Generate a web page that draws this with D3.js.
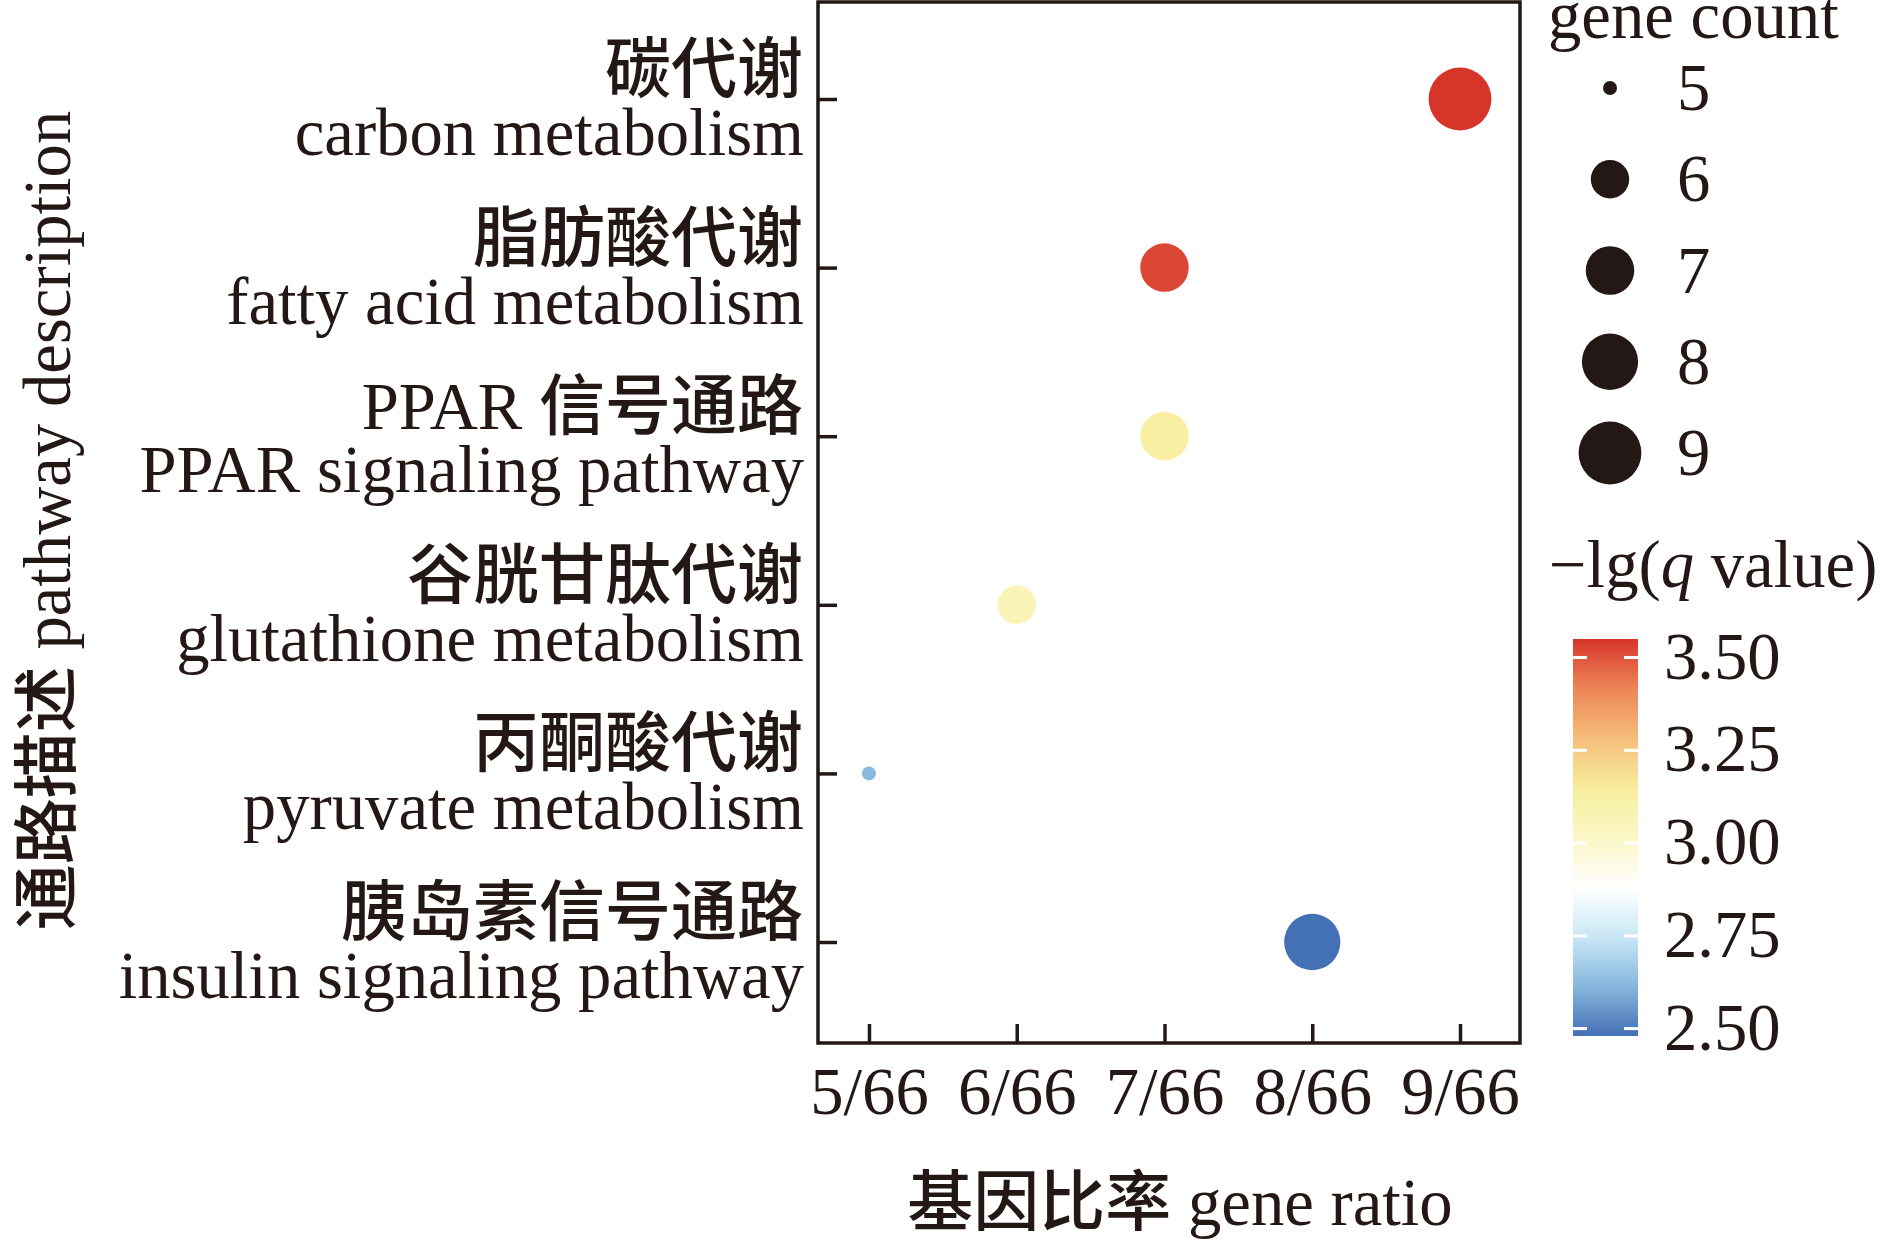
<!DOCTYPE html>
<html>
<head>
<meta charset="utf-8">
<script src="https://cdn.jsdelivr.net/npm/d3@7/dist/d3.min.js"></script>
<style>
  html, body { margin: 0; padding: 0; background: #ffffff; }
  svg { display: block; }
</style>
</head>
<body>
<svg id="chart" width="1890" height="1241"></svg>
<script>
// ---------------- data ----------------
const pathwaysZh = ["碳代谢", "脂肪酸代谢", "PPAR 信号通路", "谷胱甘肽代谢", "丙酮酸代谢", "胰岛素信号通路"];
const pathwaysEn = ["carbon metabolism", "fatty acid metabolism", "PPAR signaling pathway", "glutathione metabolism", "pyruvate metabolism", "insulin signaling pathway"];
const ratioNumerator = [9, 7, 7, 6, 5, 8];
const ratioDenominator = 66;
const geneCount = [9, 7, 7, 6, 5, 8];
const negLgQ = [3.55, 3.52, 3.13, 3.07, 2.62, 2.48];
const xTickValues = [5, 6, 7, 8, 9];
const xTickLabels = ["5/66", "6/66", "7/66", "8/66", "9/66"];
const sizeLegendValues = [5, 6, 7, 8, 9];
const colorTickValues = [3.50, 3.25, 3.00, 2.75, 2.50];
const colorTickLabels = ["3.50", "3.25", "3.00", "2.75", "2.50"];
const yTitleZh = "通路描述";
const yTitleEn = "pathway description";
const xTitleZh = "基因比率";
const xTitleEn = "gene ratio";
const sizeTitle = "gene count";

// ---------------- styles ----------------
const INK = "#231815";
const SERIF = "'Liberation Serif', 'Times New Roman', serif";
const CJK = "'Noto Sans CJK SC', 'Noto Sans CJK JP', sans-serif";
const FS = 66;
const FS_EN = 66.7;

const svg = d3.select("#chart");

// panel
const panel = { left: 818, right: 1520, top: 2, bottom: 1043 };

const x = d3.scaleLinear()
  .domain([4.655 / ratioDenominator, 9.406 / ratioDenominator])
  .range([panel.left, panel.right]);

const y = d3.scalePoint()
  .domain(pathwaysEn)
  .range([99, 942]);

// ggplot-like area size scale
const sizeNorm = d3.scaleLinear().domain([5, 9]).range([0, 1]).clamp(true);
const sizeRange = d3.scaleLinear().domain([0, 1]).range([7, 31.4]);
const r = v => sizeRange(Math.sqrt(sizeNorm(v)));

const colorDomain = [2.48, 2.62, 2.75, 2.88, 3.00, 3.15, 3.30, 3.42, 3.55];
const colorRange  = ["#4470b6", "#8ab9de", "#cbe8f6", "#ffffff", "#fbf8cc", "#f7ee9c", "#f5b676", "#ee8456", "#d7342a"];
const color = d3.scaleLinear().domain(colorDomain).range(colorRange).clamp(true);

// helper: mixed latin/CJK text
function mixedText(sel, str, latinSize) {
  const parts = str.match(/[\u3000-\u9fff\uff00-\uffef]+|[^\u3000-\u9fff\uff00-\uffef]+/g) || [];
  parts.forEach(p => {
    const isCJK = /[\u3000-\u9fff]/.test(p);
    const ts = sel.append("tspan")
      .attr("font-family", isCJK ? CJK : SERIF)
      .attr("font-weight", isCJK ? 500 : "normal")
      .text(p);
    if (!isCJK && latinSize) ts.attr("font-size", latinSize);
  });
}

// ---------------- points ----------------
const rows = pathwaysEn.map((en, i) => ({
  en, zh: pathwaysZh[i],
  ratio: ratioNumerator[i] / ratioDenominator,
  count: geneCount[i],
  q: negLgQ[i]
}));

svg.append("g").selectAll("circle")
  .data(rows)
  .join("circle")
  .attr("cx", d => x(d.ratio))
  .attr("cy", d => y(d.en))
  .attr("r", d => r(d.count))
  .attr("fill", d => color(d.q));

// ---------------- axes ----------------
const xAxis = d3.axisBottom(x)
  .tickValues(xTickValues.map(v => v / ratioDenominator))
  .tickSize(-19)
  .tickFormat((d, i) => xTickLabels[i]);

const gx = svg.append("g")
  .attr("transform", `translate(0,${panel.bottom})`)
  .call(xAxis);
gx.select(".domain").remove();
gx.selectAll(".tick line").attr("stroke", INK).attr("stroke-width", 3.5);
gx.selectAll(".tick text")
  .attr("fill", INK)
  .attr("font-family", SERIF)
  .attr("font-size", FS_EN)
  .attr("dy", null)
  .attr("y", 71);

const yAxis = d3.axisLeft(y).tickSize(-19).tickFormat("");
const gy = svg.append("g")
  .attr("transform", `translate(${panel.left},0)`)
  .call(yAxis);
gy.select(".domain").remove();
gy.selectAll(".tick line").attr("stroke", INK).attr("stroke-width", 3.5);
gy.selectAll(".tick text").remove();

// y labels: two lines each
const labG = svg.append("g");
rows.forEach(d => {
  const yy = y(d.en);
  const t1 = labG.append("text")
    .attr("x", 803).attr("y", yy - 7)
    .attr("text-anchor", "end")
    .attr("font-size", FS)
    .attr("fill", INK);
  mixedText(t1, d.zh, FS_EN);
  labG.append("text")
    .attr("x", 804).attr("y", yy + 56)
    .attr("text-anchor", "end")
    .attr("font-size", FS_EN)
    .attr("font-family", SERIF)
    .attr("fill", INK)
    .text(d.en);
});

// frame
svg.append("rect")
  .attr("x", panel.left).attr("y", panel.top)
  .attr("width", panel.right - panel.left)
  .attr("height", panel.bottom - panel.top)
  .attr("fill", "none")
  .attr("stroke", INK)
  .attr("stroke-width", 3.5);

// axis titles
const xt = svg.append("text")
  .attr("x", 1180).attr("y", 1225)
  .attr("text-anchor", "middle")
  .attr("font-size", FS)
  .attr("fill", INK);
mixedText(xt, xTitleZh + " " + xTitleEn, FS_EN);

const yt = svg.append("text")
  .attr("transform", `translate(70,${(panel.top + panel.bottom) / 2 - 2}) rotate(-90)`)
  .attr("text-anchor", "middle")
  .attr("font-size", FS)
  .attr("fill", INK);
mixedText(yt, yTitleZh + " " + yTitleEn, FS_EN);

// ---------------- size legend ----------------
svg.append("text")
  .attr("x", 1548).attr("y", 38)
  .attr("font-family", SERIF)
  .attr("font-size", FS_EN)
  .attr("fill", INK)
  .text(sizeTitle);

const legY = d3.scalePoint().domain(sizeLegendValues).range([88, 453]);
const sl = svg.append("g");
sl.selectAll("circle")
  .data(sizeLegendValues)
  .join("circle")
  .attr("cx", 1610)
  .attr("cy", d => legY(d))
  .attr("r", d => r(d))
  .attr("fill", INK);
sl.selectAll("text")
  .data(sizeLegendValues)
  .join("text")
  .attr("x", 1677)
  .attr("y", d => legY(d) + 22)
  .attr("font-family", SERIF)
  .attr("font-size", FS_EN)
  .attr("fill", INK)
  .text(d => d);

// ---------------- colour bar ----------------
const cTitle = svg.append("text")
  .attr("x", 1549).attr("y", 587)
  .attr("font-family", SERIF)
  .attr("font-size", FS_EN)
  .attr("fill", INK);
cTitle.append("tspan").text("\u2212lg(");
cTitle.append("tspan").attr("font-style", "italic").text("q");
cTitle.append("tspan").text(" value)");

const bar = { x: 1573, w: 65, top: 639, bottom: 1036 };
const cy = d3.scaleLinear().domain([2.48, 3.55]).range([bar.bottom, bar.top]);

const defs = svg.append("defs");
const grad = defs.append("linearGradient")
  .attr("id", "qgrad")
  .attr("x1", 0).attr("y1", 1).attr("x2", 0).attr("y2", 0);
d3.range(0, 1.0001, 0.02).forEach(t => {
  const v = 2.48 + t * (3.55 - 2.48);
  grad.append("stop").attr("offset", t).attr("stop-color", color(v));
});

svg.append("rect")
  .attr("x", bar.x).attr("y", bar.top)
  .attr("width", bar.w).attr("height", bar.bottom - bar.top)
  .attr("fill", "url(#qgrad)");

const ct = svg.append("g");
colorTickValues.forEach((v, i) => {
  const yy = cy(v);
  ct.append("line")
    .attr("x1", bar.x).attr("x2", bar.x + 14)
    .attr("y1", yy).attr("y2", yy)
    .attr("stroke", "#ffffff").attr("stroke-width", 3);
  ct.append("line")
    .attr("x1", bar.x + bar.w - 14).attr("x2", bar.x + bar.w)
    .attr("y1", yy).attr("y2", yy)
    .attr("stroke", "#ffffff").attr("stroke-width", 3);
  ct.append("text")
    .attr("x", 1664).attr("y", yy + 21)
    .attr("font-family", SERIF)
    .attr("font-size", FS_EN)
    .attr("fill", INK)
    .text(colorTickLabels[i]);
});
</script>
</body>
</html>
